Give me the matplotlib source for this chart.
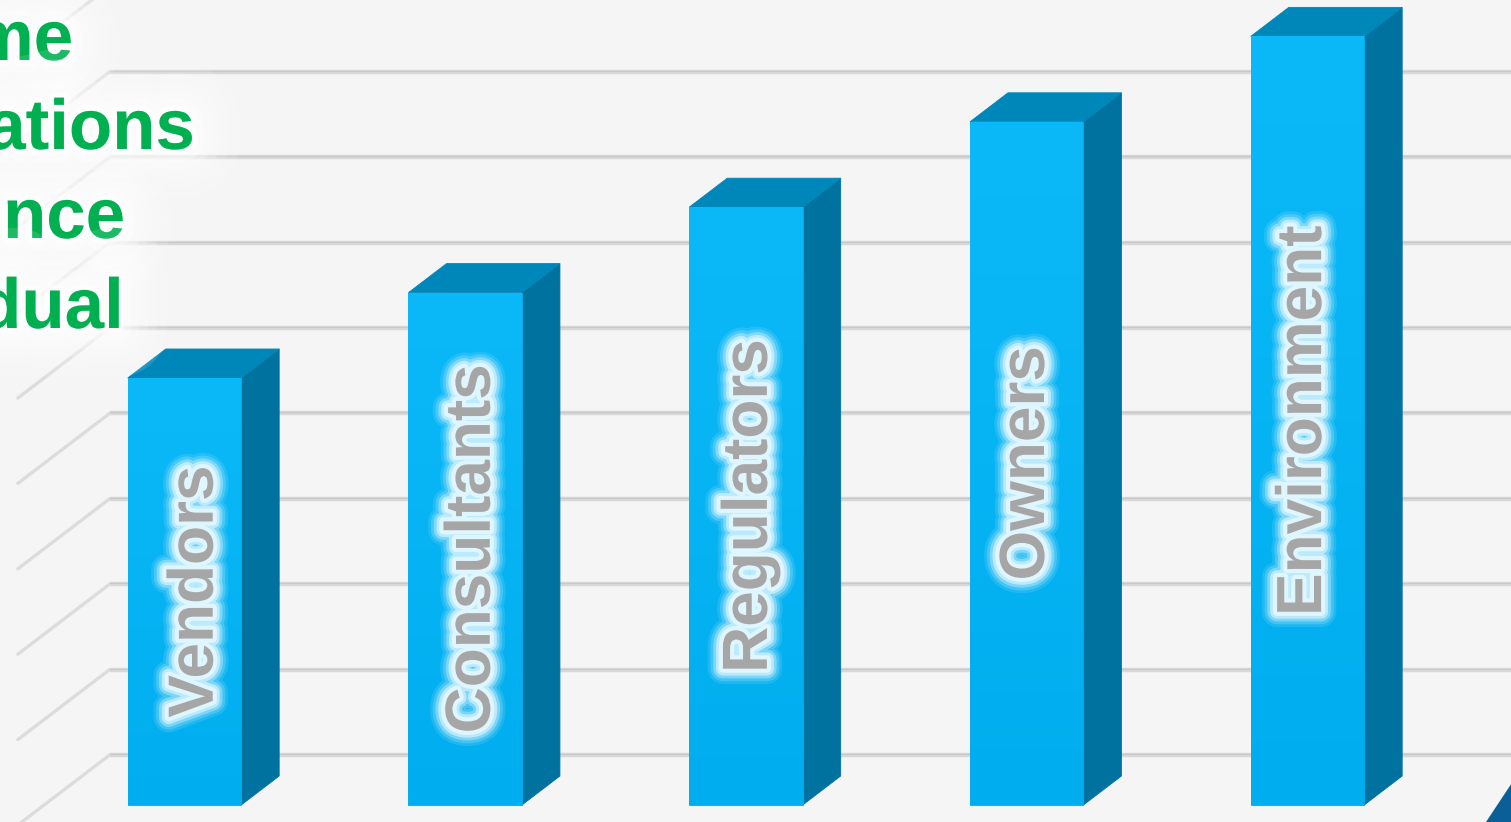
import numpy as np
import matplotlib
matplotlib.use("Agg")
import matplotlib.pyplot as plt
from matplotlib.patches import Polygon
from matplotlib.colors import LinearSegmentedColormap
import matplotlib.patheffects as pe

# ---- data ----
categories = ["Vendors", "Consultants", "Regulators", "Owners", "Environment"]
values = [5, 6, 7, 8, 9]
grid_values = list(range(0, 10))
side_lines = ["me", "ations", "nce", "dual"]

# ---- figure / axes ----
W, H, DPI = 1511, 822, 100
BG = "#f5f5f5"
fig = plt.figure(figsize=(W / DPI, H / DPI), dpi=DPI)
fig.patch.set_facecolor(BG)
ax = fig.add_axes([0, 0, 1, 1])
ax.set_facecolor(BG)
ax.axis("off")

XLIM = (-0.657, 4.725)
YLIM = (-0.199, 9.426)

# oblique projection: depth unit = one bar depth
DX, DY = 0.1354, 0.3396
D_WALL, D_FLOOR = 1.724, -0.69
BAR_W = 0.404
WALL_X = -0.5
# labels sit on a slightly receding plane, so their offset drifts left
LABEL_SHIFT0, LABEL_SHIFT_STEP = 0.040, -0.013


def proj(x, v, d):
    return (x + d * DX, v + d * DY)


def grad_poly(verts, c0, c1, axis="y", z=2):
    """Fill a polygon with a linear gradient from c0 (low) to c1 (high)."""
    base = Polygon(verts, closed=True, facecolor=c0, edgecolor=c0,
                   linewidth=0.6, zorder=z)
    ax.add_patch(base)
    clip = Polygon(verts, closed=True, facecolor="none", edgecolor="none",
                   zorder=z)
    ax.add_patch(clip)
    xs, ys = zip(*verts)
    g = np.linspace(0, 1, 256)
    arr = g.reshape(-1, 1) if axis == "y" else g.reshape(1, -1)
    cmap = LinearSegmentedColormap.from_list("g", [c0, c1])
    im = ax.imshow(arr, extent=[min(xs), max(xs), min(ys), max(ys)],
                   origin="lower", cmap=cmap, aspect="auto",
                   interpolation="bilinear", zorder=z + 0.01)
    im.set_clip_path(clip)


# ---- back wall gridlines and side wall diagonals ----
for v in grid_values:
    bx, by = proj(WALL_X, v, D_WALL)
    fx, fy = proj(WALL_X, v, D_FLOOR)
    ax.plot([bx, XLIM[1] + 1], [by, by], color="#d9d9d9", lw=3.2,
            solid_capstyle="butt", zorder=1)
    ax.plot([bx, XLIM[1] + 1], [by + 0.012, by + 0.012], color="#c9c9c9",
            lw=0.9, zorder=1.05)
    ax.plot([fx, bx], [fy, by], color="#dcdcdc", lw=2.4,
            solid_capstyle="round", zorder=1)

# ---- 3D bars ----
FRONT_TOP, FRONT_BOT = "#0cb9f8", "#00aeef"
SIDE = "#00729f"
TOP = "#0087ba"

label_glow = [pe.Stroke(linewidth=lw, foreground="#e4f8ff", alpha=a,
                        joinstyle="round", capstyle="round")
              for lw, a in [(22, 0.12), (18, 0.2), (14, 0.35), (10, 0.6),
                            (6, 0.9)]]

for i, (name, val) in enumerate(zip(categories, values)):
    x0, x1 = i - BAR_W / 2, i + BAR_W / 2
    side = [proj(x1, 0, 0), proj(x1, 0, 1), proj(x1, val, 1), proj(x1, val, 0)]
    ax.add_patch(Polygon(side, closed=True, facecolor=SIDE, edgecolor=SIDE,
                         lw=0.6, zorder=3))
    top = [proj(x0, val, 0), proj(x0, val, 1), proj(x1, val, 1), proj(x1, val, 0)]
    ax.add_patch(Polygon(top, closed=True, facecolor=TOP, edgecolor=TOP,
                         lw=0.6, zorder=3))
    front = [(x0, 0), (x1, 0), (x1, val), (x0, val)]
    grad_poly(front, FRONT_BOT, FRONT_TOP, axis="y", z=4)

    ax.text(i + LABEL_SHIFT0 + LABEL_SHIFT_STEP * i, val / 2, name,
            rotation=90, ha="center", va="center",
            fontsize=46, fontweight="bold", family="Liberation Sans",
            color="#a6a6a6", zorder=6,
            path_effects=label_glow + [pe.Normal()])

ax.set_xlim(*XLIM)
ax.set_ylim(*YLIM)

# ---- green heading lines, partly off the left edge ----
heading_pos = [(73, 60), (195, 149), (125, 238), (124, 328)]
soft_white = [pe.Stroke(linewidth=lw, foreground="white", alpha=a,
                        joinstyle="round", capstyle="round")
              for lw, a in [(70, 0.12), (55, 0.15), (42, 0.2), (30, 0.25),
                            (18, 0.35), (8, 0.5)]]
for text, (px, py) in zip(side_lines, heading_pos):
    fig.text(px / W, 1 - py / H, text, ha="right", va="baseline",
             fontsize=51, fontweight="bold", family="Liberation Sans",
             color="#00b050", path_effects=soft_white + [pe.Normal()])

# ---- corner accent ----
corner = Polygon([(1486 / W, 0), (1 + 0.001, 40 / H), (1 + 0.001, 0)],
                 closed=True, transform=fig.transFigure, facecolor="#0b5f99",
                 edgecolor="none", zorder=5)
fig.add_artist(corner)

fig.savefig("out.png", dpi=DPI, facecolor=BG)
